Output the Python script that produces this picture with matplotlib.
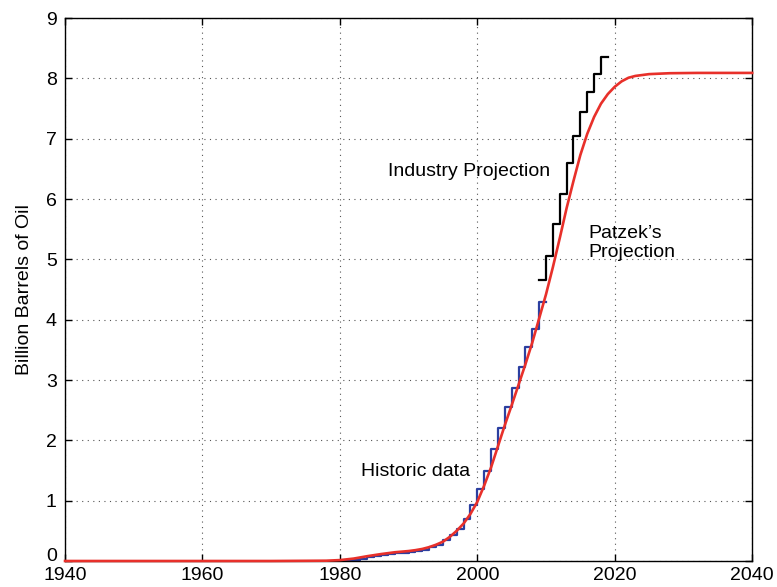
import numpy as np
import matplotlib
matplotlib.use('Agg')
import matplotlib.pyplot as plt

plt.rcParams['font.family'] = ['Liberation Sans', 'DejaVu Sans']

# historic data (step, one value per year)
hist_years = list(range(1980, 2010))
hist_vals = [0.0, 0.0, 0.01, 0.03, 0.06, 0.08, 0.10, 0.12, 0.13, 0.14,
             0.15, 0.16, 0.19, 0.23, 0.27, 0.34, 0.43, 0.53, 0.70, 0.92,
             1.19, 1.50, 1.85, 2.20, 2.55, 2.87, 3.21, 3.54, 3.85, 4.30]

# industry projection (step)
ind_years = list(range(2009, 2019))
ind_vals = [4.65, 5.06, 5.58, 6.09, 6.60, 7.04, 7.45, 7.78, 8.08, 8.36]

# Patzek's projection (smooth curve)
pat_years = [1940, 1970, 1978, 1980, 1982, 1984, 1986, 1988, 1990, 1991,
             1992, 1993, 1994, 1995, 1996, 1997, 1998, 1999, 2000, 2001,
             2002, 2003, 2004, 2005, 2006, 2007, 2008, 2009, 2010, 2011,
             2012, 2013, 2014, 2015, 2016, 2017, 2018, 2019, 2020, 2021,
             2022, 2023, 2025, 2028, 2032, 2040]
pat_vals = [0.0, 0.0, 0.005, 0.015, 0.04, 0.08, 0.115, 0.145, 0.165, 0.18,
            0.20, 0.23, 0.27, 0.32, 0.40, 0.50, 0.62, 0.78, 0.98, 1.25,
            1.55, 1.90, 2.25, 2.58, 2.92, 3.26, 3.62, 4.02, 4.42, 4.87,
            5.35, 5.85, 6.30, 6.73, 7.08, 7.36, 7.58, 7.74, 7.86, 7.95,
            8.01, 8.04, 8.07, 8.085, 8.09, 8.09]

fs = 14

fig = plt.figure(figsize=(7.77, 5.87), dpi=100)
ax = fig.add_axes([0.0837, 0.0443, 0.8843, 0.925])

ax.step(hist_years + [2010], hist_vals + [hist_vals[-1]], where='post',
        color='#2B3FA0', lw=1.6, zorder=2)
ax.step(ind_years + [2019], ind_vals + [ind_vals[-1]], where='post',
        color='black', lw=1.6, zorder=2)
ax.plot(pat_years, pat_vals, color='#E8302A', lw=1.9, zorder=3, clip_on=False)

ax.set_xlim(1940, 2040)
ax.set_ylim(0, 9)
ax.set_xticks(np.arange(1940, 2041, 20))
ax.set_yticks(np.arange(0, 10, 1))
ax.grid(True, linestyle=(0, (1, 4)), color='#555555', lw=0.8)
ax.tick_params(direction='in', top=True, right=True, labelsize=fs,
               length=5, width=1)
ax.tick_params(axis='x', pad=4)
ax.tick_params(axis='y', pad=6)
for s in ax.spines.values():
    s.set_linewidth(1)
# lift the "0" a little so it clears "1940"
ax.yaxis.get_major_ticks()[0].label1.set_va('baseline')

ax.set_ylabel('Billion Barrels of Oil', fontsize=fs, labelpad=9)

ax.text(1987.0, 6.46, 'Industry Projection', fontsize=fs, va='center')
ax.text(2016.1, 5.27, 'Patzek\u2019s\nProjection', fontsize=fs, va='center',
        linespacing=1.2)
ax.text(1983.1, 1.49, 'Historic data', fontsize=fs, va='center')

fig.savefig('out.png', dpi=100)
